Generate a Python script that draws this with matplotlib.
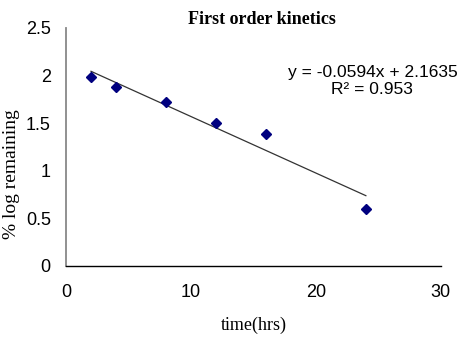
import numpy as np
import matplotlib
matplotlib.use("Agg")
import matplotlib.pyplot as plt

# data
time_hrs = [2, 4, 8, 12, 16, 24]
log_remaining = [1.98, 1.88, 1.72, 1.50, 1.39, 0.60]

# trendline as printed on the chart
slope = -0.0594
intercept = 2.1635
r2 = 0.953

xticks = [0, 10, 20, 30]
yticks = [0, 0.5, 1, 1.5, 2, 2.5]

fig = plt.figure(figsize=(4.65, 3.37), dpi=100)
ax = fig.add_axes([0.142, 0.211, 0.806, 0.706])

xfit = np.array([min(time_hrs), max(time_hrs)])
ax.plot(xfit, slope * xfit + intercept, color="#333333", lw=0.9, zorder=2)
ax.plot(time_hrs, log_remaining, linestyle="none", marker="D",
        markersize=5, color="#00007f", zorder=3)

ax.set_xlim(0, 30)
ax.set_ylim(0, 2.5)
ax.set_xticks(xticks)
ax.set_yticks(yticks)
ax.set_xticklabels([str(t) for t in xticks])
ax.set_yticklabels(["0", "0.5", "1", "1.5", "2", "2.5"])

for s in ["top", "right"]:
    ax.spines[s].set_visible(False)
ax.spines["left"].set_color("#888888")
ax.spines["left"].set_linewidth(1.3)
ax.spines["bottom"].set_color("black")
ax.spines["bottom"].set_linewidth(1.0)

ax.tick_params(axis="both", length=0, labelsize=13, colors="black")
ax.tick_params(axis="y", pad=11)
ax.tick_params(axis="x", pad=13)
for lab in ax.get_xticklabels() + ax.get_yticklabels():
    lab.set_family("Liberation Sans")

ax.set_xlabel("time(hrs)", family="Liberation Serif", fontsize=13)
ax.xaxis.set_label_coords(0.5, -0.215)
ax.set_ylabel("% log remaining", family="Liberation Serif", fontsize=14)
ax.yaxis.set_label_coords(-0.124, 0.387)

fig.text(0.563, 0.942, "First order kinetics", family="Liberation Serif",
         fontweight="bold", fontsize=13, ha="center", va="center")

fig.text(0.802, 0.784, "y = -0.0594x + 2.1635", family="Liberation Sans",
         fontsize=12.5, ha="center", va="center")
fig.text(0.800, 0.733, "R² = 0.953", family="Liberation Sans",
         fontsize=12.5, ha="center", va="center")

fig.savefig("out.png", dpi=100)
